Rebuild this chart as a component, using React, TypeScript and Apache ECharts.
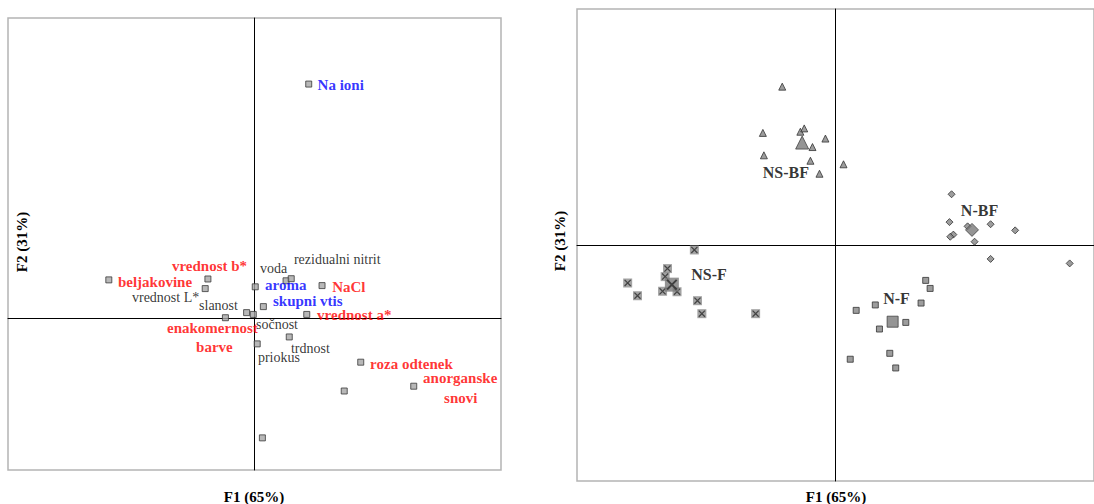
import React, { useEffect, useRef } from "react";
import * as echarts from "echarts";

// ---------- Left panel: variables (loadings) ----------
const variableX = [0.22, -0.591, -0.189, -0.2, -0.032, -0.118, -0.005, 0.003, 0.036, 0.128, 0.149, 0.274, 0.212, 0.141, 0.011, 0.431, 0.646, 0.364, 0.032];
const variableY = [0.78, 0.128, 0.131, 0.099, 0.019, 0.002, 0.013, 0.105, 0.039, 0.125, 0.132, 0.109, 0.013, -0.062, -0.085, -0.146, -0.226, -0.242, -0.398];

const labelTexts = ["Na ioni", "vrednost b*", "beljakovine", "vrednost L*", "slanost", "voda", "rezidualni nitrit", "aroma", "NaCl", "skupni vtis", "vrednost a*", "enakomernost", "barve", "sočnost", "trdnost", "priokus", "roza odtenek", "anorganske", "snovi"];
const labelX = [0.256, -0.335, -0.554, -0.497, -0.225, 0.022, 0.16, 0.043, 0.315, 0.075, 0.254, -0.355, -0.237, 0.006, 0.148, 0.014, 0.469, 0.684, 0.769];
const labelY = [0.777, 0.174, 0.121, 0.068, 0.044, 0.167, 0.197, 0.112, 0.104, 0.058, 0.012, -0.032, -0.096, -0.019, -0.102, -0.132, -0.152, -0.199, -0.265];
const labelKind = ["sens", "param", "param", "other", "other", "other", "other", "sens", "param", "sens", "param", "param", "param", "other", "other", "other", "param", "param", "param"];

// ---------- Right panel: samples (scores) ----------
const nsbfX = [-0.206, -0.281, -0.136, -0.121, -0.089, -0.039, -0.277, -0.097, -0.062, 0.031];
const nsbfY = [0.671, 0.475, 0.48, 0.494, 0.415, 0.451, 0.38, 0.357, 0.302, 0.342];
const nsbfCentroid = [-0.129, 0.434];

const nsfX = [-0.546, -0.65, -0.659, -0.804, -0.766, -0.669, -0.613, -0.534, -0.517, -0.309];
const nsfY = [-0.021, -0.1, -0.134, -0.161, -0.215, -0.196, -0.198, -0.236, -0.291, -0.291];
const nsfCentroid = [-0.633, -0.168];

const nbfX = [0.449, 0.441, 0.511, 0.6, 0.695, 0.456, 0.444, 0.538, 0.6, 0.906];
const nbfY = [0.215, 0.097, 0.079, 0.088, 0.062, 0.044, 0.035, 0.014, -0.059, -0.078];
const nbfCentroid = [0.528, 0.064];

const nfX = [0.349, 0.366, 0.331, 0.154, 0.08, 0.272, 0.17, 0.21, 0.057, 0.233];
const nfY = [-0.15, -0.184, -0.246, -0.254, -0.277, -0.328, -0.356, -0.459, -0.484, -0.521];
const nfCentroid = [0.221, -0.325];

const groupNames = ["NS-BF", "N-BF", "NS-F", "N-F"];
const groupLabelX = [-0.192, 0.557, -0.489, 0.236];
const groupLabelY = [0.309, 0.146, -0.125, -0.227];

const axisTitleX = "F1 (65%)";
const axisTitleY = "F2 (31%)";

const FONT = "Liberation Serif";
const kindColor: Record<string, string> = { param: "#ff0000", sens: "#0000ff", other: "#000000" };

const zip = (xs: number[], ys: number[]) => xs.map((x, i) => [x, ys[i]]);

const CROSS = "path://M1,2L2,1L9,8L8,9Z M8,1L9,2L2,9L1,8Z";

export default function App() {
  const ref = useRef<HTMLDivElement>(null);
  useEffect(() => {
    if (!ref.current) return;
    const chart = echarts.init(ref.current, null, { renderer: "svg" });

    const valueAxis = (gridIndex: number, min: number, max: number) => ({
      type: "value",
      gridIndex,
      min,
      max,
      axisLine: { show: true, onZero: true, lineStyle: { color: "#000", width: 1 } },
      axisTick: { show: false },
      axisLabel: { show: false },
      splitLine: { show: false },
    });

    const grayItem = (fill: string, border: string) => ({ color: fill, borderColor: border, borderWidth: 1 });

    const option: any = {
      animation: false,
      textStyle: { fontFamily: FONT },
      grid: [
        { left: 8, top: 18, width: 493, height: 452, show: true, borderColor: "#b4b4b4", borderWidth: 1.5, backgroundColor: "transparent" },
        { left: 577, top: 9, width: 518, height: 472, show: true, borderColor: "#b4b4b4", borderWidth: 1.5, backgroundColor: "transparent" },
      ],
      xAxis: [valueAxis(0, -1, 1), valueAxis(1, -1, 1)],
      yAxis: [valueAxis(0, -0.505, 1), valueAxis(1, -1, 1)],
      series: [
        {
          type: "scatter",
          xAxisIndex: 0,
          yAxisIndex: 0,
          symbol: "rect",
          symbolSize: 6,
          data: zip(variableX, variableY),
          itemStyle: grayItem("#a6a6a6", "#3a3a3a"),
          silent: true,
        },
        {
          type: "scatter",
          xAxisIndex: 0,
          yAxisIndex: 0,
          symbolSize: 0,
          silent: true,
          data: labelTexts.map((t, i) => ({
            name: t,
            value: [labelX[i], labelY[i]],
            label: {
              color: kindColor[labelKind[i]],
              fontWeight: labelKind[i] === "other" ? "normal" : "bold",
              fontSize: labelKind[i] === "other" ? 14 : 15,
              lineHeight: 12,
            },
          })),
          label: { show: true, position: "right", distance: 0, formatter: "{b}", fontFamily: FONT },
        },
        // NS-BF triangles
        {
          type: "scatter", xAxisIndex: 1, yAxisIndex: 1, symbol: "triangle", symbolSize: 7, silent: true,
          data: zip(nsbfX, nsbfY), itemStyle: grayItem("#858585", "#333"),
        },
        {
          type: "scatter", xAxisIndex: 1, yAxisIndex: 1, symbol: "triangle", symbolSize: 13, silent: true,
          data: [nsbfCentroid], itemStyle: grayItem("#7a7a7a", "#444"),
        },
        // N-BF diamonds
        {
          type: "scatter", xAxisIndex: 1, yAxisIndex: 1, symbol: "diamond", symbolSize: 7, silent: true,
          data: zip(nbfX, nbfY), itemStyle: grayItem("#858585", "#333"),
        },
        {
          type: "scatter", xAxisIndex: 1, yAxisIndex: 1, symbol: "diamond", symbolSize: 13, silent: true,
          data: [nbfCentroid], itemStyle: grayItem("#7a7a7a", "#444"),
        },
        // N-F squares
        {
          type: "scatter", xAxisIndex: 1, yAxisIndex: 1, symbol: "rect", symbolSize: 6, silent: true,
          data: zip(nfX, nfY), itemStyle: grayItem("#858585", "#333"),
        },
        {
          type: "scatter", xAxisIndex: 1, yAxisIndex: 1, symbol: "rect", symbolSize: 11, silent: true,
          data: [nfCentroid], itemStyle: grayItem("#7a7a7a", "#444"),
        },
        // NS-F squares with cross
        {
          type: "scatter", xAxisIndex: 1, yAxisIndex: 1, symbol: "rect", symbolSize: 9, silent: true,
          data: zip(nsfX, nsfY), itemStyle: { color: "#8c8c8c" },
        },
        {
          type: "scatter", xAxisIndex: 1, yAxisIndex: 1, symbol: CROSS, symbolSize: 7, silent: true,
          data: zip(nsfX, nsfY), itemStyle: { color: "#2a2a2a" },
        },
        {
          type: "scatter", xAxisIndex: 1, yAxisIndex: 1, symbol: "rect", symbolSize: 14, silent: true,
          data: [nsfCentroid], itemStyle: { color: "#7a7a7a" },
        },
        {
          type: "scatter", xAxisIndex: 1, yAxisIndex: 1, symbol: CROSS, symbolSize: 11, silent: true,
          data: [nsfCentroid], itemStyle: { color: "#2a2a2a" },
        },
        // group labels
        {
          type: "scatter", xAxisIndex: 1, yAxisIndex: 1, symbolSize: 0, silent: true,
          data: groupNames.map((n, i) => ({ name: n, value: [groupLabelX[i], groupLabelY[i]] })),
          label: {
            show: true, position: "inside", formatter: "{b}", color: "#000",
            fontWeight: "bold", fontSize: 16, fontFamily: FONT,
          },
        },
      ],
      graphic: [
        { type: "text", x: 254, y: 497, style: { text: axisTitleX, fontFamily: FONT, fontWeight: "bold", fontSize: 15, fill: "#000", align: "center", verticalAlign: "middle" } },
        { type: "text", x: 836, y: 497, style: { text: axisTitleX, fontFamily: FONT, fontWeight: "bold", fontSize: 15, fill: "#000", align: "center", verticalAlign: "middle" } },
        { type: "text", x: 22, y: 242, rotation: Math.PI / 2, style: { text: axisTitleY, fontFamily: FONT, fontWeight: "bold", fontSize: 15, fill: "#000", align: "center", verticalAlign: "middle" } },
        { type: "text", x: 560, y: 241, rotation: Math.PI / 2, style: { text: axisTitleY, fontFamily: FONT, fontWeight: "bold", fontSize: 15, fill: "#000", align: "center", verticalAlign: "middle" } },
      ],
    };

    chart.setOption(option);
    return () => chart.dispose();
  }, []);

  return (
    <div
      ref={ref}
      style={{ position: "absolute", left: 0, top: 0, width: 1094, height: 504, background: "#fff" }}
    />
  );
}
